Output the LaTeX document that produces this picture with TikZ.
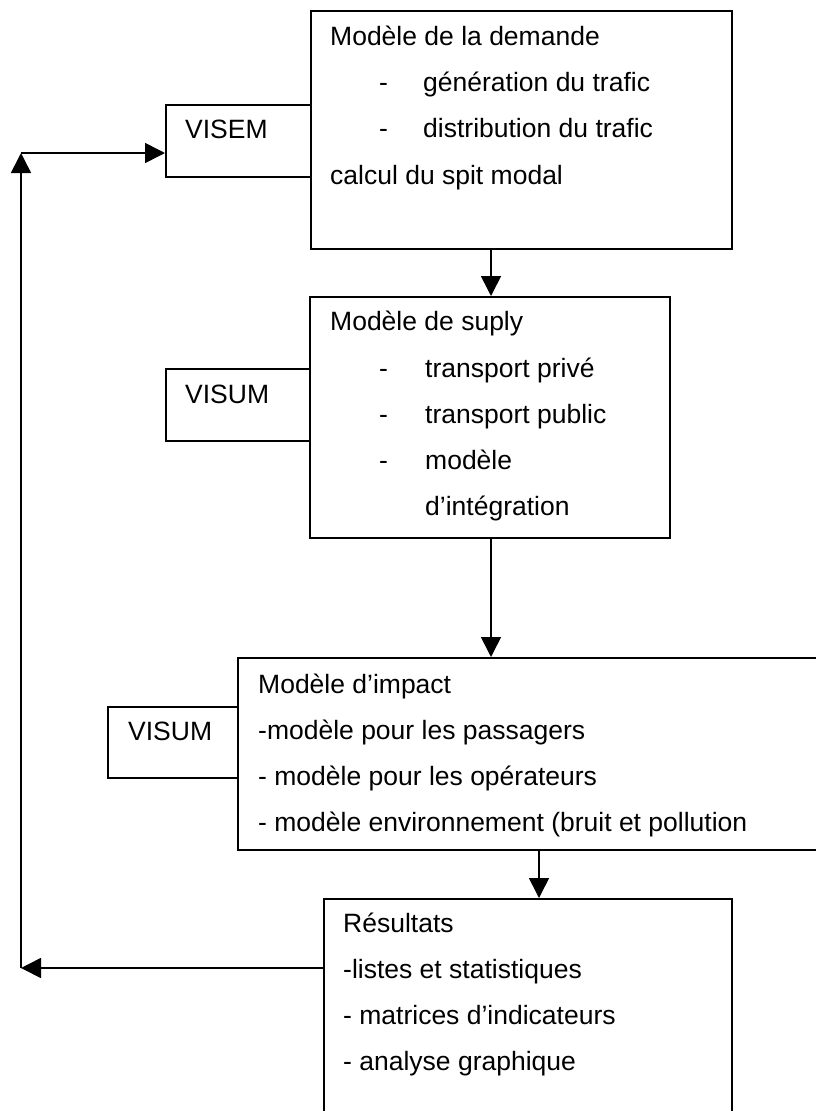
\documentclass[tikz,border=0pt]{standalone}
\usepackage{fontspec}
\setmainfont{Liberation Sans}
\usetikzlibrary{arrows.meta}
\begin{document}
\begin{tikzpicture}[x=1pt,y=-1pt,
  box/.style={draw,line width=1.6pt,rectangle,inner sep=0pt,anchor=north west},
  lbl/.style={anchor=base west,inner sep=0pt,font=\fontsize{26.5}{46}\selectfont},
  arr/.style={line width=1.6pt,-{Triangle[length=20pt,width=20pt]}}]
\clip (0,0) rectangle (816,1111);
\fill[white] (0,0) rectangle (816,1111);
% boxes
\node[box,minimum width=421pt,minimum height=238pt] (b1) at (310,10) {};
\node[box,minimum width=145pt,minimum height=72pt] (v1) at (165,104) {};
\node[box,minimum width=360pt,minimum height=241pt] (b2) at (309,296) {};
\node[box,minimum width=144pt,minimum height=72pt] (v2) at (165,368) {};
\node[box,minimum width=620pt,minimum height=192pt] (b3) at (237,657) {};
\node[box,minimum width=130pt,minimum height=71pt] (v3) at (107,706) {};
\node[box,minimum width=408pt,minimum height=240pt] (b4) at (323,898) {};
% texts box 1
\node[lbl] (t11) at (330,45) {Modèle de la demande};
\node[lbl] (d12) at (379,91) {-};
\node[lbl] (t12) at (423,91) {génération du trafic};
\node[lbl] (d13) at (379,137) {-};
\node[lbl] (t13) at (423,137) {distribution du trafic};
\node[lbl] (t14) at (330,184) {calcul du spit modal};
\node[lbl] (tv1) at (185,138) {VISEM};
% texts box 2
\node[lbl] (t21) at (330,330) {Modèle de suply};
\node[lbl] (d22) at (379,377) {-};
\node[lbl] (t22) at (425,377) {transport privé};
\node[lbl] (d23) at (379,423) {-};
\node[lbl] (t23) at (425,423) {transport public};
\node[lbl] (d24) at (379,469) {-};
\node[lbl] (t24) at (425,469) {modèle};
\node[lbl] (t25) at (425,515) {d’intégration};
\node[lbl] (tv2) at (185,403) {VISUM};
% texts box 3
\node[lbl] (t31) at (258,693) {Modèle d’impact};
\node[lbl] (t32) at (258,739) {-modèle pour les passagers};
\node[lbl] (t33) at (258,785) {- modèle pour les opérateurs};
\node[lbl] (t34) at (258,831) {- modèle environnement (bruit et pollution};
\node[lbl] (tv3) at (128,740) {VISUM};
% texts box 4
\node[lbl] (t41) at (343,932) {Résultats};
\node[lbl] (t42) at (343,978) {-listes et statistiques};
\node[lbl] (t43) at (343,1024) {- matrices d’indicateurs};
\node[lbl] (t44) at (343,1070) {- analyse graphique};
% connectors
\coordinate (x12) at (491,0);
\coordinate (x34) at (539,0);
\coordinate (p1) at (21,968);
\coordinate (p2) at (21,153);
\draw[arr] (b1.south -| x12) -- (b2.north -| x12);
\draw[arr] (b2.south -| x12) -- (b3.north -| x12);
\draw[arr] (b3.south -| x34) -- (b4.north -| x34);
\draw[arr] (b4.west |- p1) -- (p1);
\draw[arr] (p1) -- (p2);
\draw[arr] (p2) -- (v1.west |- p2);
\end{tikzpicture}
\end{document}
